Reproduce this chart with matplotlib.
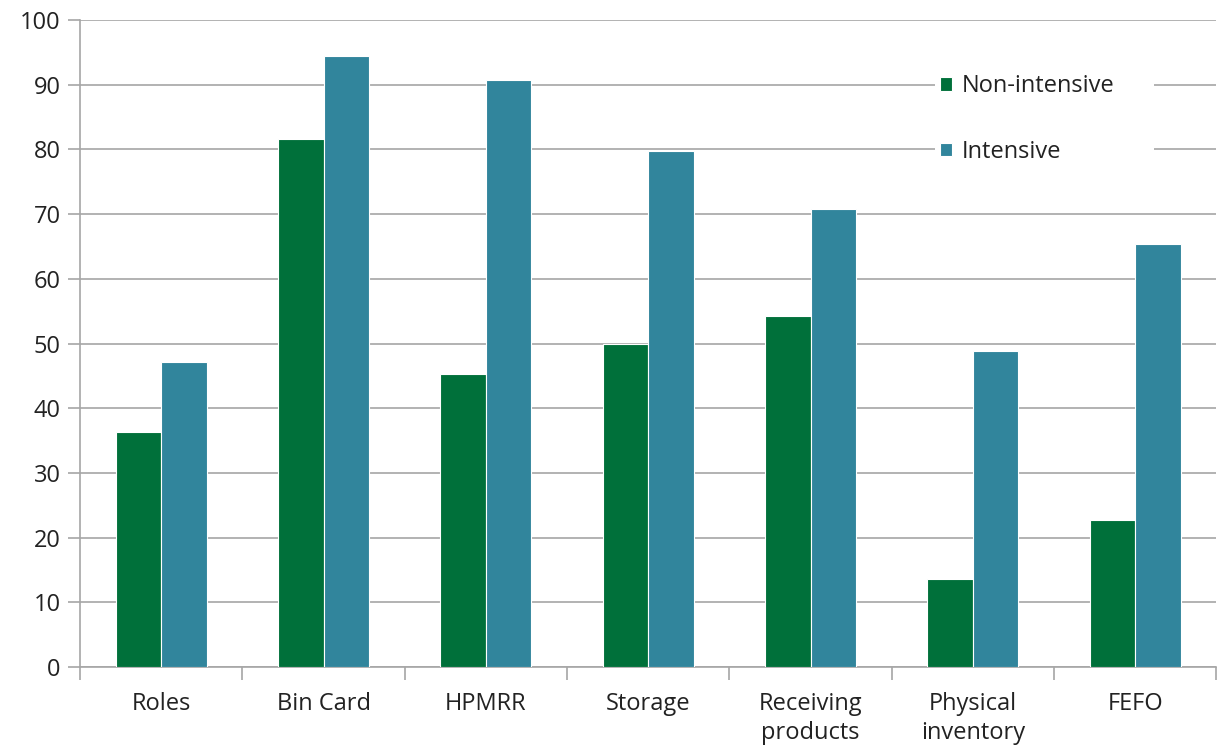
import numpy as np
import matplotlib.pyplot as plt
from matplotlib.patches import Rectangle

categories = ["Roles", "Bin Card", "HPMRR", "Storage", "Receiving\nproducts",
              "Physical\ninventory", "FEFO"]
non_intensive = [36.3, 81.6, 45.3, 49.9, 54.3, 13.6, 22.7]
intensive = [47.1, 94.4, 90.7, 79.8, 70.8, 48.8, 65.4]

green = "#00703A"
teal = "#31859C"
grid_grey = "#A6A6A6"
text_col = "#222222"

plt.rcParams['font.family'] = ['Open Sans', 'DejaVu Sans']

fig = plt.figure(figsize=(12.18, 7.46), dpi=100)
ax = fig.add_axes([0.0657, 0.106, 0.933, 0.867])

x = np.arange(len(categories))
w = 0.28
ax.bar(x - w / 2, non_intensive, w, color=green, edgecolor="white",
       linewidth=0.8, label="Non-intensive", zorder=3)
ax.bar(x + w / 2, intensive, w, color=teal, edgecolor="white",
       linewidth=0.8, label="Intensive", zorder=3)

ax.set_xlim(-0.5, len(categories) - 0.5)
ax.set_ylim(0, 100)
ax.set_yticks(np.arange(0, 101, 10))
ax.yaxis.grid(True, color=grid_grey, linewidth=1.2, zorder=0)
ax.tick_params(axis='y', length=9, width=1.2, color=grid_grey,
               labelsize=17, pad=5, labelcolor=text_col)

# category boundaries carry the tick marks, labels sit on minor ticks
ax.set_xticks(np.arange(len(categories) + 1) - 0.5)
ax.set_xticklabels([])
ax.tick_params(axis='x', which='major', length=9, width=1.2, color=grid_grey)
ax.set_xticks(x, minor=True)
ax.set_xticklabels(categories, minor=True, fontsize=17, color=text_col,
                   linespacing=1.3, va="top")
ax.tick_params(axis='x', which='minor', length=0, pad=18)

for side in ("top", "right"):
    ax.spines[side].set_visible(False)
for side in ("left", "bottom"):
    ax.spines[side].set_color(grid_grey)
    ax.spines[side].set_linewidth(1.2)

# white legend area hiding the gridlines behind it
ax.add_patch(Rectangle((0.752, 0.753), 0.193, 0.201, transform=ax.transAxes,
                       facecolor="white", edgecolor="none", zorder=2))
leg = ax.legend(loc="upper left", bbox_to_anchor=(0.757, 0.916), fontsize=17,
                frameon=False, labelspacing=1.75,
                handlelength=0.5, handleheight=0.5, handletextpad=0.4,
                borderpad=0, borderaxespad=0)
for t in leg.get_texts():
    t.set_color(text_col)

fig.savefig("out.png", dpi=100)
